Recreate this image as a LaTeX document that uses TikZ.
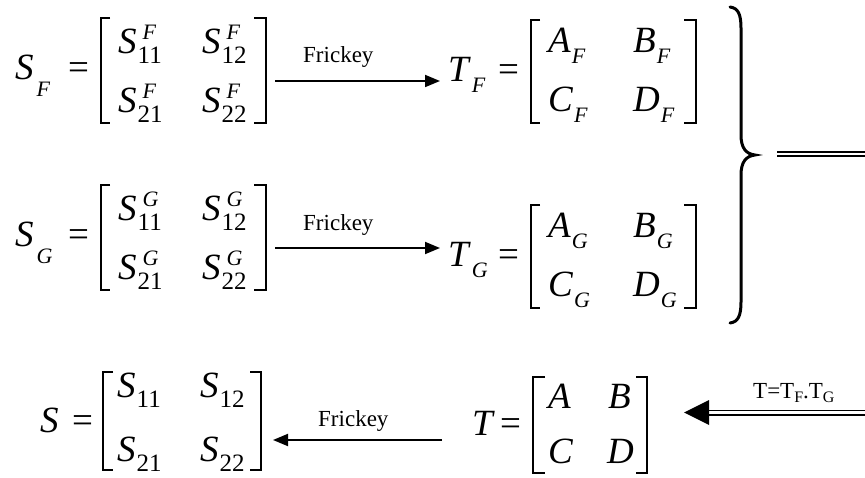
\documentclass[tikz,border=0pt]{standalone}
\usepackage{fontspec}
\setmainfont{Liberation Serif}
\usetikzlibrary{arrows.meta}
\newcommand\mfs{\fontsize{37pt}{37pt}\selectfont}
\newcommand\dfs{\fontsize{25pt}{25pt}\selectfont}
\newcommand\lfs{\fontsize{22pt}{22pt}\selectfont}
\newcommand\lblfs{\fontsize{23pt}{23pt}\selectfont}
\newcommand\tfs{\fontsize{16pt}{16pt}\selectfont}
\newcommand\SSS[3]{\textit{#1}\kern1pt\rlap{\kern5pt\raisebox{14.5pt}{\lfs\textit{#2}}}\raisebox{-10pt}{\dfs #3}}
\newcommand\SL[2]{\textit{#1}\kern1pt\raisebox{-11pt}{\lfs\textit{#2}}}
\newcommand\SLL[2]{\textit{#1}\kern3pt\raisebox{-17pt}{\lfs\textit{#2}}}
\newcommand\SD[2]{\textit{#1}\kern1pt\raisebox{-10pt}{\dfs #2}}
\begin{document}
\begin{tikzpicture}[x=1pt,y=-1pt,
  txt/.style={inner sep=0pt, anchor=base west, font=\mfs},
  lbl/.style={inner sep=0pt, anchor=base west, font=\lblfs},
  brk/.style={line width=1.4pt},
  arr/.style={line width=1.8pt,-{Triangle[length=15pt,width=12pt]}},
  dbl/.style={line width=1.9pt, double distance=2.2pt},
  brace/.style={line width=3pt, line cap=round}]
\useasboundingbox (0,0) rectangle (865,478);

% ---------- Row F ----------
\node[txt] (SF) at (15,80) {\SLL{S}{F}};
\node[txt] (eqSF) at (68,80) {=};
\draw[brk] (110,18) -- (101,18) -- (101,123) -- (110,123);
\node[txt] (sF11) at (118,54) {\SSS{S}{F}{11}};
\node[txt] (sF12) at (202,54) {\SSS{S}{F}{12}};
\node[txt] (sF21) at (118,113) {\SSS{S}{F}{21}};
\node[txt] (sF22) at (202,113) {\SSS{S}{F}{22}};
\draw[brk] (254,18) -- (266,18) -- (266,123) -- (254,123);
\coordinate (aFs) at (275,81);
\coordinate (aFe) at (440,81);
\draw[arr] (aFs) -- (aFe);
\node[lbl] (lblF) at (303,63) {Frickey};
\node[txt] (TF) at (448,82) {\SL{T}{F}};
\node[txt] (eqTF) at (498,82) {=};
\draw[brk] (540,20) -- (531,20) -- (531,123) -- (540,123);
\node[txt] (AF) at (548,53) {\SL{A}{F}};
\node[txt] (BF) at (633,53) {\SL{B}{F}};
\node[txt] (CF) at (548,112) {\SL{C}{F}};
\node[txt] (DF) at (633,112) {\SL{D}{F}};
\draw[brk] (684,20) -- (696,20) -- (696,123) -- (684,123);

% ---------- Row G ----------
\begin{scope}[yshift=-167pt]
\node[txt] (SG) at (15,80) {\SLL{S}{G}};
\node[txt] (eqSG) at (68,80) {=};
\draw[brk] (110,18) -- (101,18) -- (101,123) -- (110,123);
\node[txt] (sG11) at (118,54) {\SSS{S}{G}{11}};
\node[txt] (sG12) at (202,54) {\SSS{S}{G}{12}};
\node[txt] (sG21) at (118,113) {\SSS{S}{G}{21}};
\node[txt] (sG22) at (202,113) {\SSS{S}{G}{22}};
\draw[brk] (254,18) -- (266,18) -- (266,123) -- (254,123);
\coordinate (aGs) at (275,81);
\coordinate (aGe) at (440,81);
\draw[arr] (aGs) -- (aGe);
\node[lbl] (lblG) at (303,64) {Frickey};
\end{scope}
\begin{scope}[yshift=-185pt]
\node[txt] (TG) at (448,82) {\SL{T}{G}};
\node[txt] (eqTG) at (498,82) {=};
\draw[brk] (540,20) -- (531,20) -- (531,123) -- (540,123);
\node[txt] (AG) at (548,53) {\SL{A}{G}};
\node[txt] (BG) at (633,53) {\SL{B}{G}};
\node[txt] (CG) at (548,112) {\SL{C}{G}};
\node[txt] (DG) at (633,112) {\SL{D}{G}};
\draw[brk] (684,20) -- (696,20) -- (696,123) -- (684,123);
\end{scope}

% ---------- Brace and upper double line ----------
\draw[brace] (730,7) .. controls (738,8) and (741,14) .. (741,28) -- (741,135)
  .. controls (741,148) and (746,154) .. (755,155)
  .. controls (746,156) and (741,162) .. (741,175) -- (741,302)
  .. controls (741,316) and (738,322) .. (730,323);
\coordinate (dTs) at (777,154);
\coordinate (dTe) at (866,154);
\draw[dbl] (dTs) -- (dTe);

% ---------- Bottom row ----------
\node[txt] (S) at (40,432) {\textit{S}};
\node[txt] (eqS) at (72,432) {=};
\draw[brk] (113,372) -- (103,372) -- (103,470) -- (113,470);
\node[txt] (s11) at (117,397) {\SD{S}{11}};
\node[txt] (s12) at (200,397) {\SD{S}{12}};
\node[txt] (s21) at (117,461) {\SD{S}{21}};
\node[txt] (s22) at (200,461) {\SD{S}{22}};
\draw[brk] (250,372) -- (261,372) -- (261,470) -- (250,470);
\coordinate (aBs) at (442,440);
\coordinate (aBe) at (273,440);
\draw[arr] (aBs) -- (aBe);
\node[lbl] (lblB) at (318,426) {Frickey};
\node[txt] (T) at (472,435) {\textit{T}};
\node[txt] (eqT) at (500,435) {=};
\draw[brk] (545,377) -- (533,377) -- (533,473) -- (545,473);
\node[txt] (A) at (548,408) {\textit{A}};
\node[txt] (B) at (608,408) {\textit{B}};
\node[txt] (C) at (548,463) {\textit{C}};
\node[txt] (D) at (607,463) {\textit{D}};
\draw[brk] (636,377) -- (647,377) -- (647,473) -- (636,473);

% ---------- Bottom double arrow ----------
\coordinate (dBs) at (866,412.5);
\coordinate (dBb) at (707,412.5);
\coordinate (dBt) at (684,412.5);
\draw[dbl] (dBs) -- (dBb);
\fill (dBt) -- (709,400) -- (709,425) -- cycle;
\node[lbl] (lblT) at (753,398) {T=T\raisebox{-4pt}{\tfs F}.T\raisebox{-4pt}{\tfs G}};
\end{tikzpicture}
\end{document}
